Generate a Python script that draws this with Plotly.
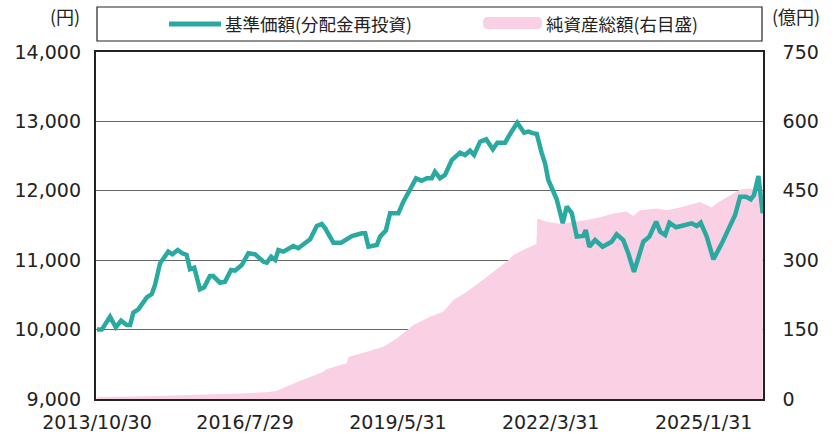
import plotly.graph_objects as go

# ---- data ----
nav_dates = [
    "2013-10-30", "2013-12-01", "2014-01-26", "2014-03-06", "2014-04-11", "2014-05-19", "2014-06-11",
    "2014-07-03", "2014-08-06", "2014-10-02", "2014-11-05", "2014-11-27", "2014-12-31", "2015-02-25",
    "2015-03-24", "2015-04-30", "2015-05-31", "2015-06-29", "2015-07-22", "2015-08-20", "2015-09-27",
    "2015-10-26", "2015-12-04", "2015-12-26", "2016-02-10", "2016-03-15", "2016-04-25", "2016-05-22",
    "2016-07-07", "2016-08-21", "2016-10-05", "2016-12-01", "2016-12-24", "2017-01-22", "2017-02-18",
    "2017-03-12", "2017-04-15", "2017-06-21", "2017-07-25", "2017-09-20", "2017-10-13", "2017-11-27",
    "2017-12-31", "2018-01-23", "2018-03-20", "2018-05-11", "2018-07-23", "2018-09-28", "2018-10-21",
    "2018-11-12", "2019-01-08", "2019-01-30", "2019-03-10", "2019-04-08", "2019-06-03", "2019-07-07",
    "2019-07-30", "2019-10-01", "2019-11-08", "2019-12-12", "2020-01-15", "2020-02-06", "2020-03-11",
    "2020-04-14", "2020-05-30", "2020-07-25", "2020-08-28", "2020-10-01", "2020-10-28", "2020-12-08",
    "2021-01-18", "2021-03-04", "2021-04-04", "2021-05-26", "2021-06-29", "2021-08-17", "2021-10-02",
    "2021-10-31", "2021-11-30", "2021-12-27", "2022-01-30", "2022-02-21", "2022-03-15", "2022-04-07",
    "2022-05-11", "2022-06-21", "2022-07-18", "2022-08-21", "2022-09-24", "2022-11-07", "2022-11-24",
    "2022-12-18", "2023-01-26", "2023-03-18", "2023-05-18", "2023-06-21", "2023-08-05", "2023-09-08",
    "2023-10-17", "2023-12-19", "2024-01-29", "2024-03-15", "2024-04-11", "2024-05-15", "2024-06-13",
    "2024-07-28", "2024-09-15", "2024-11-11", "2024-12-15", "2025-01-11", "2025-02-21", "2025-04-07",
    "2025-06-03", "2025-07-24", "2025-09-01", "2025-10-05", "2025-11-14", "2025-12-16", "2026-01-07",
    "2026-02-06", "2026-03-07",
]
nav_values = [
    10000, 10000, 10186, 10033, 10128, 10066, 10066,
    10244, 10293, 10465, 10513, 10643, 10955, 11123,
    11085, 11147, 11100, 11075, 10869, 10892, 10581,
    10610, 10772, 10772, 10676, 10690, 10859, 10850,
    10931, 11100, 11085, 10978, 10965, 11050, 11003,
    11147, 11123, 11205, 11172, 11253, 11301, 11493,
    11522, 11460, 11253, 11253, 11349, 11388, 11388,
    11195, 11219, 11340, 11426, 11676, 11676, 11843,
    11939, 12180, 12146, 12180, 12180, 12275, 12180,
    12228, 12444, 12550, 12516, 12578, 12516, 12708,
    12742, 12598, 12693, 12693, 12818, 12981, 12837,
    12852, 12830, 12818, 12540, 12396, 12156, 12036,
    11878, 11532, 11772, 11680, 11339, 11349, 11435,
    11195, 11291, 11195, 11267, 11373, 11291, 11099,
    10834, 11267, 11339, 11555, 11411, 11363, 11540,
    11474, 11507, 11532, 11493, 11540, 11339, 11013,
    11243, 11460, 11651, 11915, 11915, 11878, 11939,
    12213, 11676,
]

aum_dates = [
    "2013-10-30", "2014-12-08", "2015-07-22", "2016-06-25", "2016-12-24", "2017-03-01", "2017-05-30",
    "2017-09-20", "2018-01-11", "2018-02-03", "2018-06-18", "2018-06-29", "2018-11-01", "2019-02-21",
    "2019-05-23", "2019-09-13", "2020-01-03", "2020-04-04", "2020-06-10", "2020-09-09", "2020-12-08",
    "2021-03-08", "2021-06-07", "2021-07-21", "2021-10-20", "2021-12-24", "2021-12-31", "2022-03-04",
    "2022-06-03", "2022-09-01", "2022-12-01", "2023-02-28", "2023-05-30", "2023-08-28", "2023-10-12",
    "2023-11-26", "2024-03-19", "2024-05-26", "2024-08-24", "2025-01-07", "2025-03-27", "2025-04-30",
    "2025-08-20", "2025-10-05", "2025-12-11", "2026-01-26", "2026-02-28", "2026-03-07",
]
aum_values = [
    4, 6.5, 8.6, 12, 14.4, 18, 30,
    45, 59, 65, 77, 91, 102, 113,
    131, 160, 178, 189, 214, 232, 253,
    275, 297, 311, 326, 335, 390, 383,
    378, 383, 387, 393, 401, 405, 395,
    408, 412, 408, 414, 426, 414, 423,
    444, 453, 455, 450, 444, 444,
]

x_tick_dates = ["2013-10-30", "2016-07-29", "2019-05-31", "2022-03-31", "2025-01-31"]
x_tick_labels = ["2013/10/30", "2016/7/29", "2019/5/31", "2022/3/31", "2025/1/31"]
left_ticks = [9000, 10000, 11000, 12000, 13000, 14000]
right_ticks = [0, 150, 300, 450, 600, 750]

nav_name = "基準価額(分配金再投資)"
aum_name = "純資産総額(右目盛)"

TEAL = "#2aa9a1"
PINK = "#f9d0e4"
W, H = 835, 434
L, R, T, B = 96, 763, 52, 399

def px_x(p):
    return (p - L) / (R - L)

def px_y(p):
    return (B - p) / (B - T)

FONT = "Noto Sans CJK JP"
NUMFONT = "DejaVu Sans"

fig = go.Figure()
fig.add_trace(go.Scatter(
    x=aum_dates, y=aum_values, yaxis="y", mode="none", fill="tozeroy",
    fillcolor=PINK, name=aum_name, hoverinfo="skip",
))
fig.add_trace(go.Scatter(
    x=nav_dates, y=nav_values, yaxis="y2", mode="lines",
    line=dict(color=TEAL, width=4.5), name=nav_name,
))

# legend drawn manually
shapes = [
    dict(type="rect", xref="paper", yref="paper", x0=px_x(97), x1=px_x(762), y0=px_y(41), y1=px_y(7),
         line=dict(color="#222", width=1.2), fillcolor="white", layer="above"),
    dict(type="line", xref="paper", yref="paper", x0=px_x(169), x1=px_x(221), y0=px_y(24), y1=px_y(24),
         line=dict(color=TEAL, width=5), layer="above"),
]
x0, x1, y0, y1 = 483, 542, 17, 29
r = 5
rx, ry = r / (R - L), r / (B - T)
X0, X1, Y0, Y1 = px_x(x0), px_x(x1), px_y(y1), px_y(y0)
path = (f"M{X0+rx},{Y0} L{X1-rx},{Y0} Q{X1},{Y0} {X1},{Y0+ry} L{X1},{Y1-ry} Q{X1},{Y1} {X1-rx},{Y1} "
        f"L{X0+rx},{Y1} Q{X0},{Y1} {X0},{Y1-ry} L{X0},{Y0+ry} Q{X0},{Y0} {X0+rx},{Y0} Z")
shapes.append(dict(type="path", xref="paper", yref="paper", path=path, fillcolor=PINK,
                   line=dict(width=0), layer="above"))

annotations = [
    dict(text=nav_name, xref="paper", yref="paper", x=px_x(223), y=px_y(24), xanchor="left",
         yanchor="middle", showarrow=False, font=dict(family=FONT, size=17.5, color="#222")),
    dict(text=aum_name, xref="paper", yref="paper", x=px_x(544), y=px_y(24), xanchor="left",
         yanchor="middle", showarrow=False, font=dict(family=FONT, size=17.5, color="#222")),
    dict(text="(円)", xref="paper", yref="paper", x=px_x(65), y=px_y(16), xanchor="center",
         yanchor="middle", showarrow=False, font=dict(family=FONT, size=18, color="#222")),
    dict(text="(億円)", xref="paper", yref="paper", x=px_x(796), y=px_y(16), xanchor="center",
         yanchor="middle", showarrow=False, font=dict(family=FONT, size=18, color="#222")),
]

tickfont = dict(family=NUMFONT, size=19, color="#222")

fig.update_layout(
    width=W, height=H,
    margin=dict(l=L, r=W - R, t=T, b=H - B, pad=0, autoexpand=False),
    paper_bgcolor="white", plot_bgcolor="white",
    showlegend=False,
    shapes=shapes, annotations=annotations,
    xaxis=dict(
        type="date", range=["2013-10-23", "2026-03-09"], automargin=False,
        tickvals=x_tick_dates, ticktext=x_tick_labels, tickfont=tickfont,
        showgrid=False, zeroline=False, showline=True, linecolor="#222", linewidth=1.5,
        mirror=True, ticks="", ticklabelstandoff=5,
    ),
    yaxis=dict(
        side="right", range=[0, 750], tickvals=right_ticks, tickfont=tickfont, automargin=False,
        showgrid=True, gridcolor="#666", gridwidth=1.2, zeroline=False,
        showline=True, linecolor="#222", linewidth=1.5, mirror=True, ticks="",
        ticklabelstandoff=14,
    ),
    yaxis2=dict(
        overlaying="y", side="left", range=[9000, 14000], tickvals=left_ticks, automargin=False,
        tickformat=",", tickfont=tickfont, showgrid=False, zeroline=False,
        showline=False, ticks="", ticklabelstandoff=14,
    ),
)

fig.write_html("out.html", config={"displayModeBar": False})

# remove the browser's default page margin so the figure sits at the window's corner
with open("out.html", "r", encoding="utf-8") as f:
    html = f.read()
html = html.replace("<head>", "<head><style>html,body{margin:0;padding:0;overflow:hidden;}</style>", 1)
with open("out.html", "w", encoding="utf-8") as f:
    f.write(html)
